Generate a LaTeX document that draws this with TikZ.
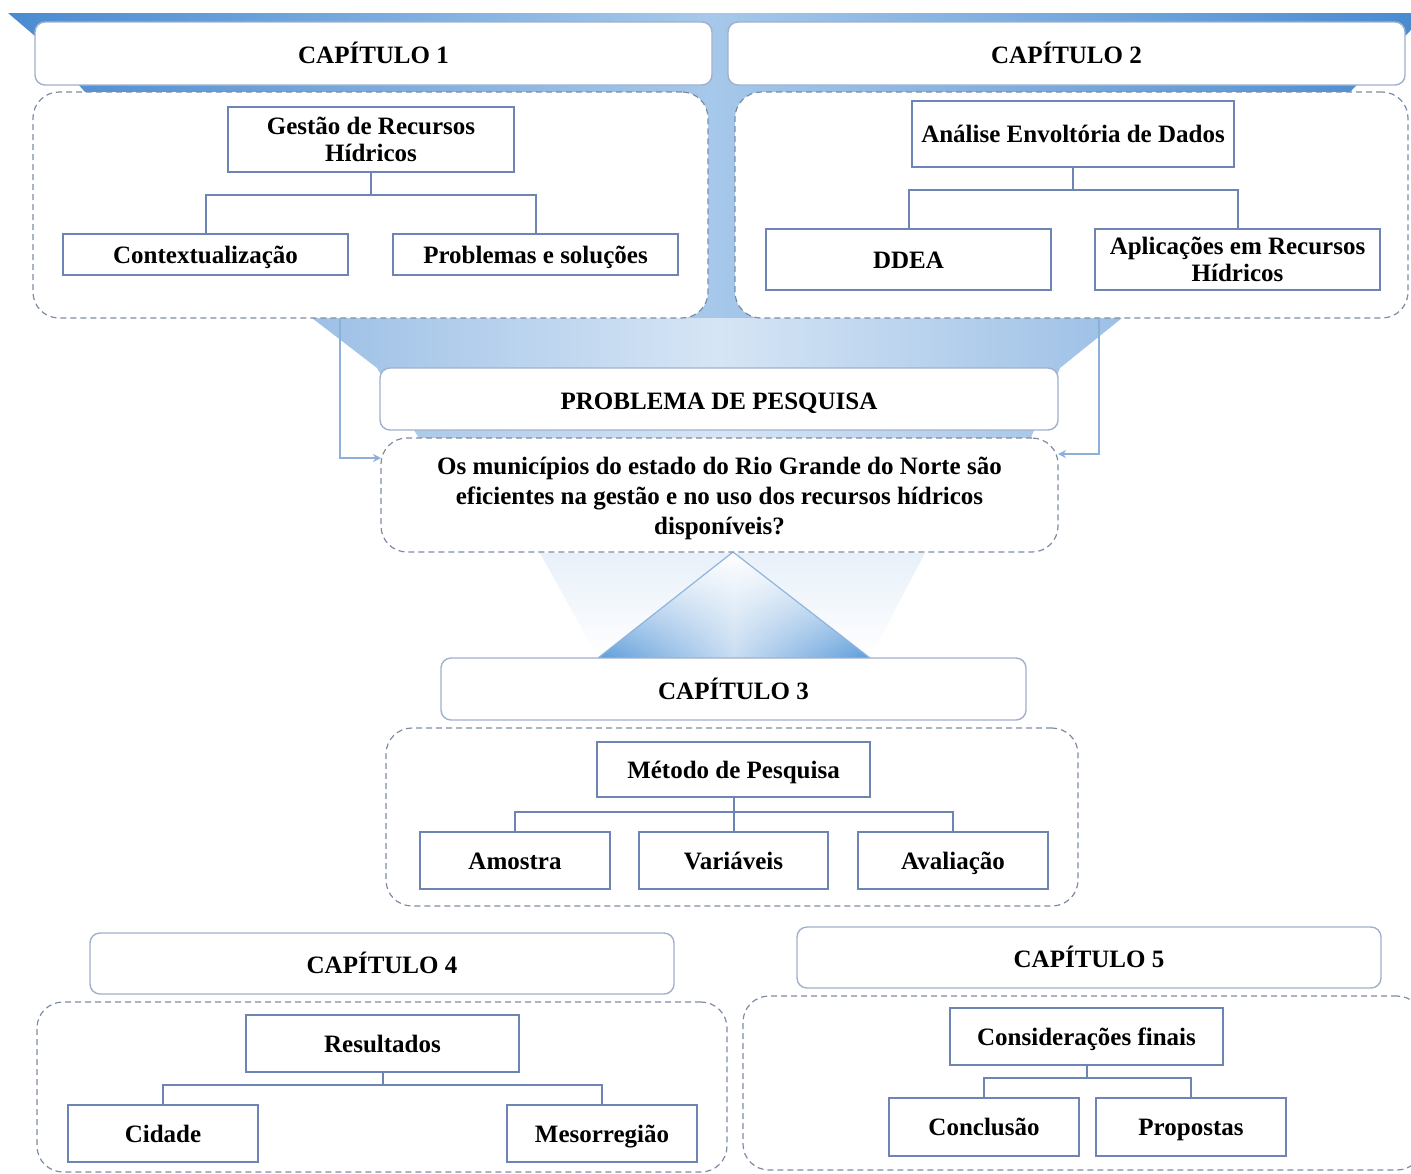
\documentclass[tikz,border=0pt]{standalone}
\usepackage{fontspec}
\setmainfont{Liberation Serif}
\usetikzlibrary{arrows.meta,fadings}

\definecolor{bandedge}{HTML}{4A8BD0}
\definecolor{bandmid}{HTML}{A6C8EA}
\definecolor{funneledge}{HTML}{9DC0E6}
\definecolor{funnelmid}{HTML}{D6E5F5}
\definecolor{glow}{HTML}{E8F0F9}
\definecolor{tripeak}{HTML}{5E9DDB}
\definecolor{trimid}{HTML}{C9DDF2}
\definecolor{triline}{HTML}{8FB5DD}
\definecolor{chapline}{HTML}{9FB1CC}
\definecolor{grpline}{HTML}{7D8CA3}
\definecolor{itemline}{HTML}{6D84B4}
\definecolor{feedline}{HTML}{8DB0DA}

\begin{document}
\begin{tikzpicture}[x=0.5pt,y=-0.5pt,
  font=\fontsize{12.5}{13.5}\selectfont\bfseries,
  sz/.style 2 args={minimum width={#1*0.5pt}, minimum height={#2*0.5pt}},
  oneline/.style={text height=11.5pt, text depth=3pt},
  chapbox/.style={draw=chapline, line width=0.7pt, rounded corners=5pt,
    fill=white, inner sep=0pt, text height=13pt, text depth=3pt},
  groupbox/.style={draw=grpline, dash pattern=on 3pt off 2pt, line width=0.6pt,
    rounded corners=13pt, fill=white, inner sep=0pt},
  itembox/.style={draw=itemline, line width=1pt, fill=white, inner sep=0pt,
    align=center},
  link/.style={draw=itemline, line width=1pt},
  feed/.style={draw=feedline, line width=0.6pt,
    -{Stealth[length=4pt,width=4pt]}}]

\useasboundingbox (0,0) rectangle (1411,1173);
\clip (0,0) rectangle (1411,1173);

% blue banner across the top, with the strip between chapters 1 and 2
\shade[left color=bandedge, right color=bandedge, middle color=bandmid]
  (8,13) -- (1411,13) -- (1411,30) -- (1350,92) -- (763,92) -- (763,318)
  -- (680,318) -- (680,92) -- (85,92) -- (35,36) -- cycle;

% funnel leading into the research problem
\shade[left color=funneledge, right color=funneledge, middle color=funnelmid]
  (312,318) -- (1122,318) -- (1060,368) -- (1030,440) -- (420,440)
  -- (377,368) -- cycle;

% faint halo and pyramid under the research question
\fill[glow, path fading=south]
  (540,553) -- (925,553) -- (870,658) -- (598,658) -- cycle;
\shade[left color=tripeak, right color=tripeak, middle color=trimid]
  (733,552) -- (870,658) -- (598,658) -- cycle;
\fill[white, path fading=south] (733,552) -- (870,658) -- (598,658) -- cycle;
\draw[triline, line width=0.6pt] (598,658) -- (733,552) -- (870,658);

% chapter headers
\node[chapbox, sz={677}{63}] (c1) at (373.5,53.5) {CAPÍTULO 1};
\node[chapbox, sz={677}{63}] (c2) at (1066.5,53.5) {CAPÍTULO 2};
\node[chapbox, sz={678}{62}] (prob) at (719,399) {PROBLEMA DE PESQUISA};
\node[chapbox, sz={585}{62}] (c3) at (733.5,689) {CAPÍTULO 3};
\node[chapbox, sz={584}{61}] (c4) at (382,963.5) {CAPÍTULO 4};
\node[chapbox, sz={584}{61}] (c5) at (1089,957.5) {CAPÍTULO 5};

% dashed group frames
\node[groupbox, sz={675}{226}] (g1) at (370.5,205) {};
\node[groupbox, sz={673}{226}] (g2) at (1071.5,205) {};
\node[groupbox, sz={677}{114}] (q) at (719.5,495) {};
\node[align=center, inner sep=0pt, font=\fontsize{12.5}{15}\selectfont\bfseries]
  (qtext) at ([yshift=-1.8pt]q.center)
  {Os municípios do estado do Rio Grande do Norte são\\
   eficientes na gestão e no uso dos recursos hídricos\\
   disponíveis?};
\node[groupbox, sz={692}{178}] (g3) at (732,817) {};
\node[groupbox, sz={690}{170}] (g4) at (382,1087) {};
\node[groupbox, sz={680}{174}] (g5) at (1083,1083) {};

% links from chapters 1 and 2 into the question
\coordinate (s1) at (340,318);
\coordinate (e1) at (381,458);
\coordinate (s2) at (1099,318);
\coordinate (e2) at (1058,454);
\draw[feed] (s1) |- (e1);
\draw[feed] (s2) |- (e2);

% chapter 1
\node[itembox, sz={286}{65}] (gest) at (371,139.5) {Gestão de Recursos\\Hídricos};
\node[itembox, oneline, sz={285}{41}] (ctx) at (205.5,254.5) {Contextualização};
\node[itembox, oneline, sz={285}{41}] (prs) at (535.5,254.5) {Problemas e soluções};
\coordinate (b1) at (371,195);
\draw[link] (gest.south) -- (b1);
\draw[link] (ctx.north) |- (b1) -| (prs.north);

% chapter 2
\node[itembox, oneline, sz={322}{66}] (aed) at (1073,134) {Análise Envoltória de Dados};
\node[itembox, oneline, sz={285}{61}] (ddea) at (908.5,259.5) {DDEA};
\node[itembox, sz={285}{61}] (apl) at (1237.5,259.5) {Aplicações em Recursos\\Hídricos};
\coordinate (b2) at (1073,190);
\draw[link] (aed.south) -- (b2);
\draw[link] (ddea.north) |- (b2) -| (apl.north);

% chapter 3
\node[itembox, oneline, sz={273}{55}] (met) at (733.5,769.5) {Método de Pesquisa};
\node[itembox, oneline, sz={190}{57}] (amo) at (515,860.5) {Amostra};
\node[itembox, oneline, sz={189}{57}] (var) at (733.5,860.5) {Variáveis};
\node[itembox, oneline, sz={190}{57}] (ava) at (953,860.5) {Avaliação};
\coordinate (b3) at (733.5,812);
\draw[link] (met.south) -- (var.north);
\draw[link] (amo.north) |- (b3) -| (ava.north);

% chapter 4
\node[itembox, oneline, sz={273}{57}] (res) at (382.5,1043.5) {Resultados};
\node[itembox, oneline, sz={190}{57}] (cid) at (163,1133.5) {Cidade};
\node[itembox, oneline, sz={190}{57}] (mes) at (602,1133.5) {Mesorregião};
\coordinate (b4) at (382.5,1085);
\draw[link] (res.south) -- (b4);
\draw[link] (cid.north) |- (b4) -| (mes.north);

% chapter 5
\node[itembox, oneline, sz={273}{57}] (cons) at (1086.5,1036.5) {Considerações finais};
\node[itembox, oneline, sz={190}{58}] (conc) at (984,1127) {Conclusão};
\node[itembox, oneline, sz={190}{58}] (prop) at (1191,1127) {Propostas};
\coordinate (b5) at (1086.5,1078);
\draw[link] (cons.south) -- (b5);
\draw[link] (conc.north) |- (b5) -| (prop.north);

\end{tikzpicture}
\end{document}
